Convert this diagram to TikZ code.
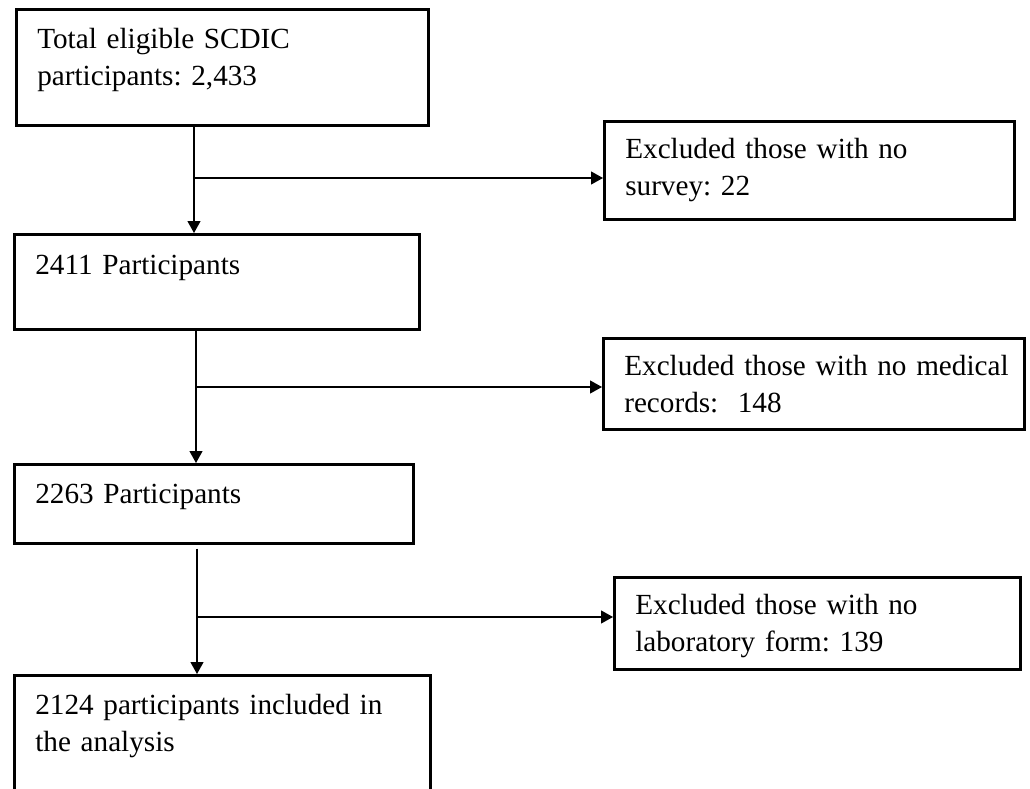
\documentclass[tikz,border=0pt]{standalone}
\usepackage{fontspec}
\setmainfont{Liberation Serif}
\usepackage{tikz}
\usetikzlibrary{arrows.meta}
\frenchspacing
\tikzset{>={Triangle[length=12pt,width=13pt]}}
\tikzset{
  flowbox/.style={draw, line width=2.6pt, anchor=north west, align=left,
    inner xsep=21pt, inner ysep=0pt, font=\fontsize{29.2}{37}\selectfont},
  flowline/.style={line width=1.2pt}
}

\begin{document}
\begin{tikzpicture}[x=1pt, y=-1pt]
    \useasboundingbox (0,0) rectangle (1030,789);
    \node[flowbox, text width=370pt, text height=39pt, text depth=77pt] (total) at (15,8) {Total eligible SCDIC\\participants: 2,433};
    \node[flowbox, text width=368pt, text height=37pt, text depth=61pt] (nosurvey) at (603,120) {Excluded those with no\\survey: 22};
    \node[flowbox, text width=363pt, text height=40pt, text depth=55pt] (p2411) at (13,233) {2411 Participants};
    \node[flowbox, text width=379pt, text height=37pt, text depth=54pt] (norecords) at (602,337) {\mbox{Excluded those with no medical}\\records:\ \ 148};
    \node[flowbox, text width=357pt, text height=39pt, text depth=40pt] (p2263) at (13,463) {2263 Participants};
    \node[flowbox, text width=364pt, text height=37pt, text depth=55pt] (nolab) at (613,576) {Excluded those with no\\laboratory form: 139};
    \node[flowbox, text width=374pt, text height=39pt, text depth=130pt] (analysis) at (13,674) {2124 participants included in\\the analysis};
    \coordinate (split1) at (194,178);
    \coordinate (split2) at (196,387);
    \coordinate (split3) at (197,617);
    \draw[flowline, ->] (split1 |- total.south) -- (split1 |- p2411.north);
    \draw[flowline, ->] (split1) -- (split1 -| nosurvey.west);
    \draw[flowline, ->] (split2 |- p2411.south) -- (split2 |- p2263.north);
    \draw[flowline, ->] (split2) -- (split2 -| norecords.west);
    \draw[flowline, ->] ([yshift=-4pt]split3 |- p2263.south) -- (split3 |- analysis.north);
    \draw[flowline, ->] (split3) -- (split3 -| nolab.west);
\end{tikzpicture}
\end{document}
